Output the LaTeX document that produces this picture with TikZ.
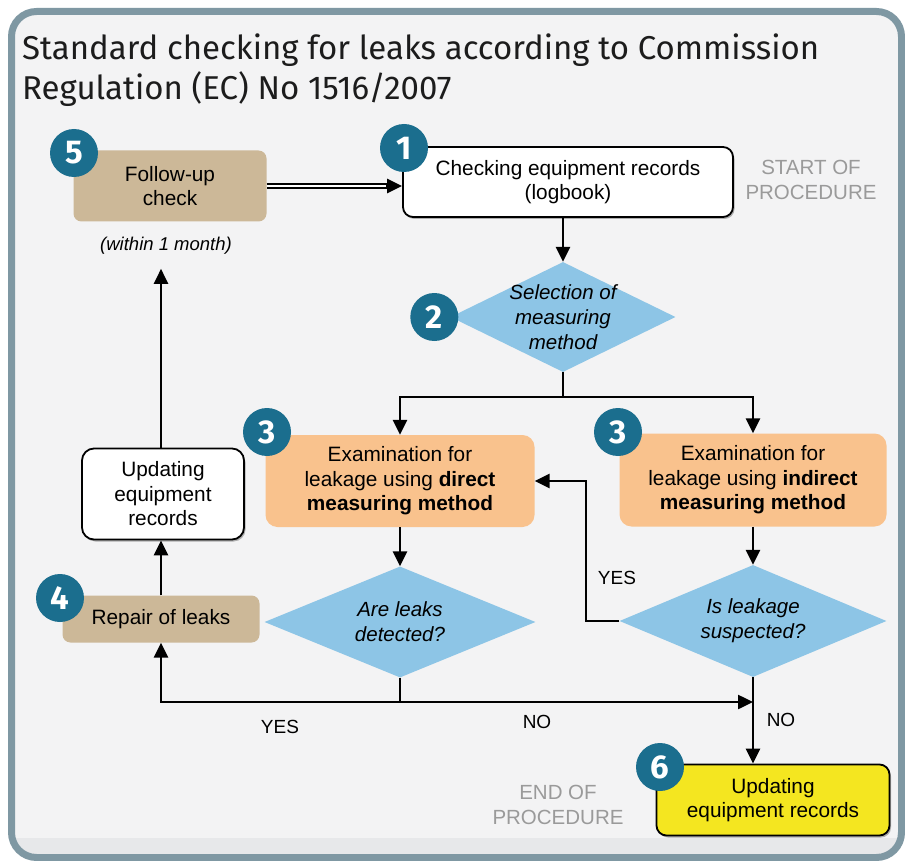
\documentclass[tikz,border=0pt]{standalone}
\usepackage{fontspec}
\setmainfont{Liberation Sans}
\newfontfamily\headfont{Fira Sans}
\usepackage{tikz}
\usetikzlibrary{arrows, shapes, shadows}
\usetikzlibrary{arrows.meta}

\definecolor{framegray}{HTML}{7F98A3}
\definecolor{panel}{HTML}{F3F3F4}
\definecolor{bandgray}{HTML}{E7E8EA}
\definecolor{badgeblue}{HTML}{1B6E8E}
\definecolor{tanfill}{HTML}{CCB898}
\definecolor{peach}{HTML}{F9C28D}
\definecolor{skyblue}{HTML}{8DC5E6}
\definecolor{lemon}{HTML}{F4E620}
\definecolor{softgray}{HTML}{9A9A9A}
\definecolor{inkgray}{HTML}{1C1C1C}

\tikzset{
    txt/.style={font=\fontsize{20.8}{24.5}\selectfont, align=center, inner sep=0pt},
    recbox/.style={txt, rectangle, rounded corners=10pt, draw=black, line width=1.8pt,
        drop shadow={shadow xshift=1.5pt, shadow yshift=-2pt, opacity=0.6}},
    tanbox/.style={txt, rectangle, rounded corners=8pt, fill=tanfill},
    exambox/.style={txt, rectangle, rounded corners=12pt, fill=peach},
    query/.style={diamond, fill=skyblue, inner sep=0pt},
    qtext/.style={font=\fontsize{20.5}{25}\selectfont\itshape, align=center},
    badge/.style={circle, fill=badgeblue, text=white, minimum size=48pt, inner sep=0pt,
        font=\headfont\bfseries\fontsize{33}{33}\selectfont},
    note/.style={txt, text=softgray, font=\fontsize{20.5}{24.5}\selectfont},
    tag/.style={font=\fontsize{19}{20}\selectfont},
    heading/.style={anchor=base west, inner sep=0pt, text=inkgray, font=\headfont\fontsize{33}{36}\selectfont},
    wire/.style={line width=2.5pt},
    flow/.style={wire, -{Triangle[length=15pt,width=14pt]}},
    dwire/.style={line width=1.9pt, double, double distance=2.2pt}
}

\begin{document}
\begin{tikzpicture}[x=1pt, y=-1pt]
\useasboundingbox (0,0) rectangle (905,861);
\fill[white] (0,0) rectangle (905,861);

% panel with its frame
\begin{scope}
    \clip[rounded corners=25pt] (11.5,11.5) rectangle (901.5,857.5);
    \fill[panel] (0,0) rectangle (905,861);
    \fill[bandgray] (0,838) rectangle (905,861);
\end{scope}
\draw[framegray, line width=7pt, rounded corners=25pt] (11.5,11.5) rectangle (901.5,857.5);

\node[heading] (title1) at (22,60) {Standard checking for leaks according to Commission};
\node[heading] (title2) at (22,100) {Regulation (EC) No 1516/2007};

% boxes
\node[recbox, fill=white, minimum width=330pt, minimum height=70pt] (chk) at (568,182)
    {Checking equipment records\\(logbook)};
\node[tanbox, minimum width=193pt, minimum height=71pt] (follow) at (170,186) {Follow-up\\check};
\node[txt, font=\fontsize{18.5}{20}\selectfont\itshape] (within) at (166,246) {(within 1 month)};
\node[note] (start) at (811,180) {START OF\\PROCEDURE};

\node[query, minimum width=225pt, minimum height=110pt,
    label={[qtext]center:Selection of\\measuring\\method}] (sel) at (563,317) {};

\node[exambox, minimum width=269pt, minimum height=92pt] (exd) at (400,481)
    {Examination for\\leakage using \textbf{direct}\\\textbf{measuring method}};
\node[exambox, minimum width=267pt, minimum height=93pt] (exi) at (753,480)
    {Examination for\\leakage using \textbf{indirect}\\\textbf{measuring method}};

\node[query, minimum width=271pt, minimum height=111pt,
    label={[qtext]center:Are leaks\\detected?}] (qd) at (400,622) {};
\node[query, minimum width=267pt, minimum height=112pt,
    label={[qtext]center:Is leakage\\suspected?}] (qi) at (753,621) {};

\node[recbox, fill=white, rounded corners=12pt, minimum width=162pt, minimum height=91pt] (upd) at (163,494)
    {Updating\\equipment\\records};
\node[tanbox, minimum width=197pt, minimum height=47pt] (repair) at (161,619) {Repair of leaks};

\node[recbox, fill=lemon, minimum width=233pt, minimum height=71pt] (done) at (773,800)
    {Updating\\equipment records};
\node[note] (finish) at (558,805) {END OF\\PROCEDURE};

% step numbers
\node[badge] (b1) at (404,148) {1};
\node[badge] (b2) at ([xshift=-16pt]sel.west) {2};
\node[badge] (b3a) at (267,432) {3};
\node[badge] (b3b) at (618,432) {3};
\node[badge] (b4) at (60,598) {4};
\node[badge] (b5) at (74,153) {5};
\node[badge] (b6) at (660,767) {6};

% connectors
\coordinate (entry) at (follow.east -| chk.west);
\coordinate (fork) at (563,397);
\coordinate (yesbend) at (586,621);
\coordinate (low) at (400,702);

\draw[dwire, shorten >=13pt] (follow.east) -- (entry);
\draw[flow] ([xshift=-16pt]entry) -- (entry);
\draw[flow] (chk.south -| sel.north) -- (sel.north);
\draw[wire] (sel.south) -- (fork);
\draw[flow] (fork) -| (exd.north);
\draw[flow] (fork) -| (exi.north);
\draw[flow] (exd.south) -- (qd.north);
\draw[flow] (exi.south) -- (qi.north);
\draw[flow] (qi.west) -- (yesbend) |- (exd.east);
\draw[wire] (qd.south) -- (low);
\draw[flow] (low) -| (repair.south);
\draw[flow] (low) -- (low -| qi.south);
\draw[flow] (qi.south) -- (qi.south |- done.north);
\draw[flow] (repair.north) -- (repair.north |- upd.south);
\draw[flow, shorten >=14pt] (repair.north |- upd.north) -- (repair.north |- within.south);

\node[tag] (yes1) at (617,578) {YES};
\node[tag] (yes2) at (280,727) {YES};
\node[tag] (no1) at (537,722) {NO};
\node[tag] (no2) at (781,720) {NO};
\end{tikzpicture}
\end{document}
